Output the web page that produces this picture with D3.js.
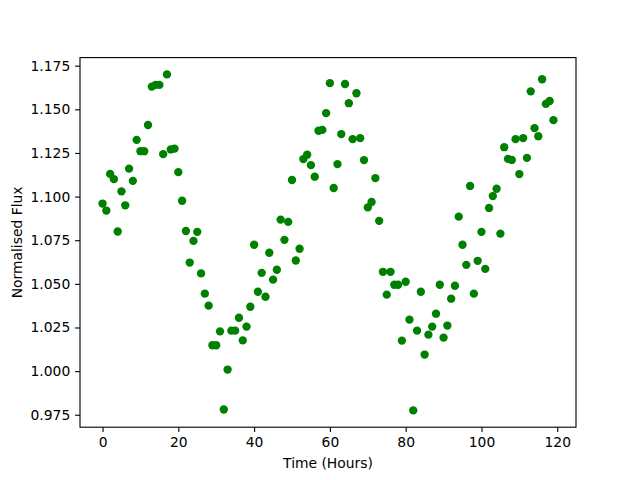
<!DOCTYPE html>
<html>
<head>
<meta charset="utf-8">
<script src="https://cdn.jsdelivr.net/npm/d3@7"></script>
<style>
  html, body { margin: 0; padding: 0; background: #fff; }
  svg { display: block; }
  text { font-family: "DejaVu Sans", sans-serif; }
</style>
</head>
<body>
<svg id="chart" width="640" height="480"></svg>
<script>
// ---- data ----
const hours = d3.range(0, 120);
const flux = [
  1.096, 1.092, 1.113, 1.110, 1.080, 1.103, 1.095, 1.116, 1.109, 1.1325,
  1.126, 1.126, 1.141, 1.163, 1.164, 1.164, 1.1243, 1.170, 1.127, 1.1275,
  1.114, 1.0976, 1.0803, 1.0622, 1.0746, 1.0798, 1.056, 1.0444, 1.0375, 1.0148,
  1.0148, 1.0228, 0.978, 1.0009, 1.0232, 1.0232, 1.0306, 1.0176, 1.0255, 1.0369,
  1.0724, 1.0455, 1.0563, 1.0426, 1.0678, 1.0524, 1.0581, 1.0868, 1.0752, 1.0855,
  1.1095, 1.0634, 1.0701, 1.1215, 1.124, 1.118, 1.1114, 1.1377, 1.1382, 1.1478,
  1.165, 1.1049, 1.1186, 1.1358, 1.1645, 1.1535, 1.1329, 1.1592, 1.1335, 1.1209,
  1.0938, 1.0969, 1.1106, 1.0861, 1.0569, 1.0438, 1.0569, 1.0495, 1.0495, 1.0175,
  1.0512, 1.0295, 0.9775, 1.0232, 1.0455, 1.0095, 1.0209, 1.0255, 1.0329, 1.0495,
  1.0192, 1.0261, 1.0415, 1.0489, 1.0885, 1.0724, 1.0609, 1.1061, 1.0444, 1.0632,
  1.0798, 1.0586, 1.0935, 1.1003, 1.1045, 1.0788, 1.1283, 1.1216, 1.121, 1.1329,
  1.1129, 1.1335, 1.1222, 1.1603, 1.1392, 1.1346, 1.1672, 1.1531, 1.1548, 1.1438
];
const xTicks = [0, 20, 40, 60, 80, 100, 120];
const yTicks = [0.975, 1.000, 1.025, 1.050, 1.075, 1.100, 1.125, 1.150, 1.175];
const xLabel = "Time (Hours)";
const yLabel = "Normalised Flux";

// ---- layout ----
const plotL = 80, plotR = 576, plotT = 57.6, plotB = 427.2;
const fontPx = 13.89;
const tickLen = 4.86;

const svg = d3.select("#chart");

function padded(ext) {
  const m = (ext[1] - ext[0]) * 0.05;
  return [ext[0] - m, ext[1] + m];
}
const x = d3.scaleLinear().domain(padded(d3.extent(hours))).range([plotL, plotR]);
const y = d3.scaleLinear().domain(padded(d3.extent(flux))).range([plotB, plotT]);

// points
svg.append("g")
  .selectAll("circle")
  .data(hours.map((h, i) => ({ h, f: flux[i] })))
  .join("circle")
  .attr("cx", d => x(d.h))
  .attr("cy", d => y(d.f))
  .attr("r", 4.17)
  .attr("fill", "#008000");

// axes
const xAxis = d3.axisBottom(x).tickValues(xTicks).tickFormat(d3.format("d"))
  .tickSize(tickLen).tickPadding(4.86).tickSizeOuter(0);
const yAxis = d3.axisLeft(y).tickValues(yTicks).tickFormat(d3.format(".3f"))
  .tickSize(tickLen).tickPadding(4.86).tickSizeOuter(0);

const gx = svg.append("g").attr("transform", `translate(0,${plotB})`).call(xAxis);
const gy = svg.append("g").attr("transform", `translate(${plotL},0)`).call(yAxis);
[gx, gy].forEach(g => {
  g.select(".domain").remove();
  g.selectAll(".tick line").attr("stroke", "#000").attr("stroke-width", 1.11);
  g.selectAll(".tick text").attr("fill", "#000")
    .style("font-family", "'DejaVu Sans', sans-serif")
    .style("font-size", fontPx + "px");
});

// frame (spines)
svg.append("rect")
  .attr("x", plotL).attr("y", plotT)
  .attr("width", plotR - plotL).attr("height", plotB - plotT)
  .attr("fill", "none").attr("stroke", "#000").attr("stroke-width", 1.11);

// labels
svg.append("text")
  .attr("x", (plotL + plotR) / 2).attr("y", 468)
  .attr("text-anchor", "middle")
  .style("font-size", fontPx + "px")
  .attr("fill", "#000")
  .text(xLabel);

svg.append("text")
  .attr("transform", `translate(21.5,${(plotT + plotB) / 2}) rotate(-90)`)
  .attr("text-anchor", "middle")
  .style("font-size", fontPx + "px")
  .attr("fill", "#000")
  .text(yLabel);
</script>
</body>
</html>
